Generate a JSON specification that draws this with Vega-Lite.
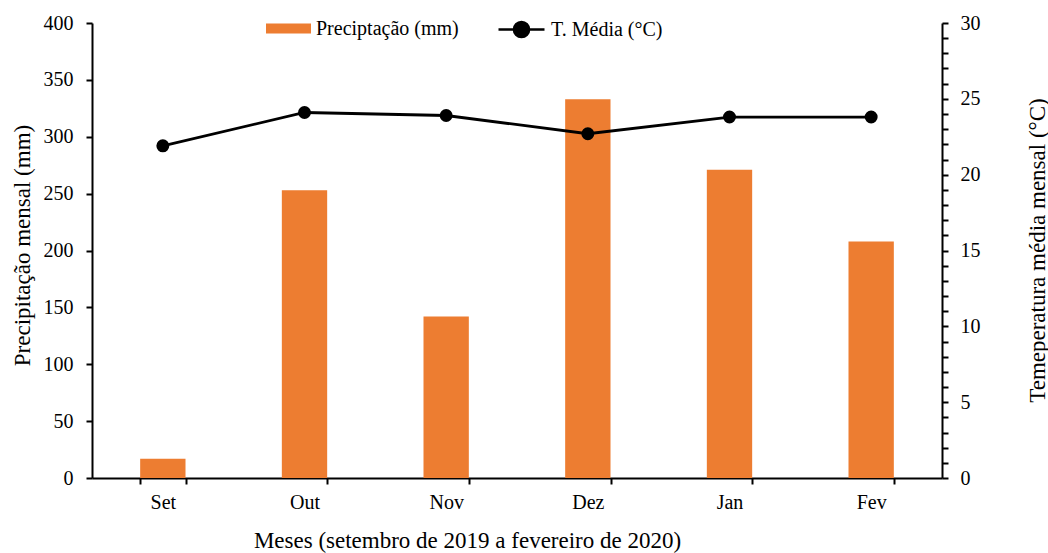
{
  "$schema": "https://vega.github.io/schema/vega-lite/v6.json",
  "autosize": {"type": "none"},
  "width": 850,
  "height": 455,
  "padding": {"left": 92, "top": 23, "right": 106, "bottom": 75},
  "background": "white",
  "config": {
    "view": {"stroke": null},
    "font": "Liberation Serif",
    "axis": {
      "labelFont": "Liberation Serif",
      "titleFont": "Liberation Serif",
      "labelFontSize": 20,
      "titleFontSize": 23,
      "titleFontWeight": "normal",
      "labelColor": "black",
      "titleColor": "black",
      "domainColor": "black",
      "tickColor": "black",
      "domainWidth": 2,
      "tickWidth": 2,
      "tickSize": 6,
      "grid": false
    },
    "legend": {
      "labelFont": "Liberation Serif",
      "labelFontSize": 20,
      "labelColor": "black",
      "padding": 0
    }
  },
  "data": {
    "values": [
      {"mes": "Set", "precip": 17, "temp": 21.9},
      {"mes": "Out", "precip": 253, "temp": 24.1},
      {"mes": "Nov", "precip": 142, "temp": 23.9},
      {"mes": "Dez", "precip": 333, "temp": 22.7},
      {"mes": "Jan", "precip": 271, "temp": 23.8},
      {"mes": "Fev", "precip": 208, "temp": 23.8}
    ]
  },
  "encoding": {
    "x": {
      "field": "mes",
      "type": "nominal",
      "sort": null,
      "scale": {"paddingInner": 0.68, "paddingOuter": 0.34},
      "axis": {
        "title": "Meses (setembro de 2019 a fevereiro de 2020)",
        "labelAngle": 0,
        "tickBand": "extent",
        "labelPadding": 8,
        "titleX": 375,
        "titleY": 62,
        "titleBaseline": "middle"
      }
    }
  },
  "layer": [
    {
      "mark": {"type": "bar"},
      "encoding": {
        "y": {
          "field": "precip",
          "type": "quantitative",
          "scale": {"domain": [0, 400]},
          "axis": {
            "title": "Precipitação mensal (mm)",
            "values": [0, 50, 100, 150, 200, 250, 300, 350, 400],
            "labelPadding": 13,
            "titleX": -70,
            "titleY": 222,
            "titleBaseline": "middle"
          }
        },
        "fill": {
          "datum": "Preciptação (mm)",
          "scale": {"range": ["#ED7D31"]},
          "legend": {
            "title": null,
            "orient": "none",
            "legendX": 174,
            "legendY": -17,
            "symbolType": "M-1,-0.22H1V0.22H-1Z",
            "symbolSize": 2025,
            "symbolStrokeWidth": 0,
            "labelOffset": 5
          }
        }
      }
    },
    {
      "mark": {
        "type": "line",
        "strokeWidth": 2.8,
        "point": {"filled": true, "size": 120, "color": "black"}
      },
      "encoding": {
        "y": {
          "field": "temp",
          "type": "quantitative",
          "scale": {"domain": [0, 30]},
          "axis": {
            "orient": "right",
            "title": "Temeperatura média mensal (°C)",
            "values": [0,1,2,3,4,5,6,7,8,9,10,11,12,13,14,15,16,17,18,19,20,21,22,23,24,25,26,27,28,29,30],
            "labelExpr": "datum.value % 5 === 0 ? datum.label : ''",
            "labelPadding": 12,
            "titleAngle": 270,
            "titleX": 95,
            "titleY": 227,
            "titleBaseline": "middle"
          }
        },
        "stroke": {
          "datum": "T. Média (°C)",
          "scale": {"range": ["black"]},
          "legend": {
            "title": null,
            "orient": "none",
            "legendX": 405,
            "legendY": -18,
            "symbolType": "M-1,0H-0.3M0.3,0H1M-0.33,0A0.33,0.33 0 1,0 0.33,0A0.33,0.33 0 1,0 -0.33,0Z",
            "symbolSize": 2116,
            "symbolStrokeWidth": 2.5,
            "symbolFillColor": "black",
            "symbolStrokeColor": "black",
            "labelOffset": 5
          }
        }
      }
    }
  ],
  "resolve": {"scale": {"y": "independent", "fill": "independent", "stroke": "independent"}}
}
